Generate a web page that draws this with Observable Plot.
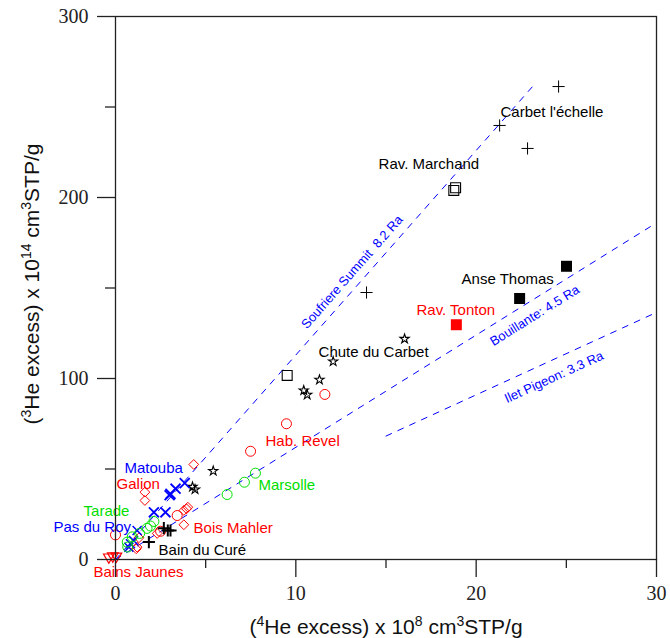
<!DOCTYPE html>
<html><head><meta charset="utf-8">
<script src="https://cdn.jsdelivr.net/npm/d3@7"></script>
<script src="https://cdn.jsdelivr.net/npm/@observablehq/plot@0.6"></script>
<style>
html,body{margin:0;padding:0;background:#fff;}
#chart svg{display:block;}
</style>
</head><body><div id="chart"></div>
<script>
// ---------- data (x = 4He excess ×1e8, y = 3He excess ×1e14) ----------
const carbetEchelle = [[24.57,261.3],[21.30,239.8],[22.85,227.1],[13.92,147.5]];
const ravMarchand   = [[18.86,205.4],[18.76,203.9],[9.52,101.7]];
const anseThomas    = [[25.01,162.0],[22.41,144.2]];
const ravTonton     = [[18.90,129.7]];
const chuteCarbet   = [[16.03,121.9],[12.07,109.4],[11.31,99.3],[10.44,93.4],[10.63,91.0],[5.42,48.9],[4.27,40.1],[4.41,38.7]];
const habRevel      = [[11.61,91.2],[9.48,75.0],[7.49,59.8],[3.42,24.3],[0.0,13.6],[2.5,15.6]];
const marsolle      = [[7.76,47.7],[7.15,42.7],[6.19,35.9]];
const galionBoisMahler = [[4.34,52.5],[1.63,37.2],[1.63,32.6],[3.79,27.1],[3.94,28.0],[4.01,28.9],[3.79,19.2],[2.31,14.4],[1.15,5.9],[1.2,6.8],[1.3,12.0]];
const matouba       = [[3.84,42.2],[3.33,39.1],[3.05,36.3],[3.0,35.5],[2.77,26.1],[2.13,26.1]];
const pasDuRoy      = [[1.2,16.0],[1.0,10.5],[0.83,8.7],[0.74,6.8]];
const tarade        = [[2.13,21.0],[1.94,18.5],[1.75,17.2],[1.34,14.4],[0.93,12.5],[0.65,9.6],[0.68,6.9]];
const bainDuCure    = [[2.68,17.3],[2.9,16.0],[3.05,16.0],[1.85,9.6]];
const bainsJaunes   = [[-0.37,0.7],[-0.15,1.3],[0.05,1.2]];

const siteNames = ["Carbet l'échelle","Rav. Marchand","Anse Thomas","Rav. Tonton","Chute du Carbet","Hab. Revel","Marsolle","Galion","Matouba","Pas du Roy","Tarade","Bain du Curé","Bains Jaunes","Bois Mahler"];
const labelX = [21.35,14.59,19.19,16.69,11.26,8.32,7.93,0.06,0.50,-3.44,-1.77,2.39,-1.22,4.33];
const labelY = [247.0,218.2,154.7,137.6,114.4,65.2,40.9,41.4,50.3,17.7,26.5,5.0,-7.2,17.1];

// reference lines (Ra ratios)
const refNames = ["Soufriere Summit  8.2 Ra","Bouillante: 4.5 Ra","Ilet Pigeon: 3.3 Ra"];
const refStart = [[0,0],[0,0],[15.0,68.2]];
const refEnd   = [[23.1,261.0],[30,186.0],[30,136.5]];
const refLabelPos = [[13.12,158.8],[23.25,134.8],[24.31,100.7]];
const refLabelAngle = [-48.6,-32.0,-24.5];

// axis ticks
const xMajor = [0,10,20,30], xMinor = [5,15,25];
const yMajor = [0,100,200,300], yMinor = [50,150,250];

// ---------- styles ----------
const RED = "#ff0000", GREEN = "#00e000", BLUE = "#0000ff", BLACK = "#000000";
const downTriangle = {draw(ctx, size){const s=Math.sqrt(size)*0.6;ctx.moveTo(-s,-s*0.8);ctx.lineTo(s,-s*0.8);ctx.lineTo(0,s*0.95);ctx.closePath();}};
const seriesDefs = [
  [carbetEchelle, {symbol:"plus", r:4, stroke:BLACK, fill:"none", strokeWidth:1}],
  [ravMarchand,   {symbol:"square", r:5.6, stroke:BLACK, fill:"none", strokeWidth:1.1}],
  [anseThomas,    {symbol:"square", r:6.2, stroke:"none", fill:BLACK}],
  [ravTonton,     {symbol:"square", r:6.2, stroke:"none", fill:RED}],
  [chuteCarbet,   {symbol:"star", r:2.9, stroke:BLACK, fill:"none", strokeWidth:1.1}],
  [habRevel,      {symbol:"circle", r:5, stroke:RED, fill:"none", strokeWidth:1}],
  [marsolle,      {symbol:"circle", r:5, stroke:GREEN, fill:"none", strokeWidth:1}],
  [galionBoisMahler,{symbol:"diamond2", r:4.4, stroke:RED, fill:"none", strokeWidth:1}],
  [matouba,       {symbol:"times", r:4.6, stroke:BLUE, fill:"none", strokeWidth:1.8}],
  [pasDuRoy,      {symbol:"times", r:4.2, stroke:BLUE, fill:"none", strokeWidth:1.5}],
  [tarade,        {symbol:"circle", r:5, stroke:GREEN, fill:"none", strokeWidth:1}],
  [bainDuCure,    {symbol:"plus", r:4, stroke:BLACK, fill:"none", strokeWidth:2}],
  [bainsJaunes,   {symbol:downTriangle, r:5, stroke:RED, fill:"none", strokeWidth:1.2}]
];
const labelColors = [BLACK,BLACK,BLACK,RED,BLACK,RED,GREEN,RED,BLUE,BLUE,GREEN,BLACK,RED,RED];

const labels = siteNames.map((n,i)=>({name:n, x:labelX[i], y:labelY[i], color:labelColors[i]}));
const refLines = refNames.map((n,i)=>[{id:i,x:refStart[i][0],y:refStart[i][1]},{id:i,x:refEnd[i][0],y:refEnd[i][1]}]).flat();
const refLabels = refNames.map((n,i)=>({name:n,x:refLabelPos[i][0],y:refLabelPos[i][1],a:refLabelAngle[i]}));

const SANS = "Liberation Sans, Arial, Helvetica, sans-serif";
const SERIF = "Liberation Serif, Times New Roman, serif";
const AX = "#222";

const marks = [
  Plot.line(refLines, {x:"x", y:"y", z:"id", stroke:BLUE, strokeWidth:1, strokeDasharray:"6,7"}),
  Plot.text(refLabels, {x:"x", y:"y", text:"name", rotate:"a", fill:BLUE, fontSize:13, fontFamily:SANS, textAnchor:"middle"}),
  ...seriesDefs.map(([pts, st]) => Plot.dot(pts, {x:d=>d[0], y:d=>d[1], ...st})),
  Plot.text(labels, {x:"x", y:"y", text:"name", fill:"color", fontSize:15, fontFamily:SANS, textAnchor:"start"}),
  Plot.frame({stroke:AX, strokeWidth:1.3}),
  Plot.axisX(xMajor, {tickSize:18, tickPadding:8, fontSize:20, fontFamily:SERIF, stroke:AX, fill:AX, strokeWidth:1.3, label:null, tickFormat:d=>String(d)}),
  Plot.axisX(xMinor, {tickSize:9, stroke:AX, strokeWidth:1.3, label:null, tickFormat:()=>""}),
  Plot.axisY(yMajor, {tickSize:18, tickPadding:9, fontSize:20, fontFamily:SERIF, stroke:AX, fill:AX, strokeWidth:1.3, label:null, tickFormat:d=>String(d)}),
  Plot.axisY(yMinor, {tickSize:10, stroke:AX, strokeWidth:1.3, label:null, tickFormat:()=>""})
];

const chart = Plot.plot({
  width:670, height:638,
  marginLeft:115, marginRight:14, marginTop:16, marginBottom:79,
  x:{domain:[0,30], axis:null},
  y:{domain:[0,300], axis:null},
  style:{background:"#fff"},
  marks
});
document.getElementById("chart").appendChild(chart);

// axis titles with superscripts
const svg = d3.select(chart);
function title(sel, parts){
  parts.forEach(([t,sup])=>{
    const ts = sel.append("tspan").text(t);
    if (sup) ts.attr("font-size","14px").attr("dy","-8");
    else if (sel.node().childNodes.length>1) {
      const prev = sel.node().childNodes[sel.node().childNodes.length-2];
      if (prev.getAttribute("font-size")) ts.attr("dy","8");
    }
  });
}
const xt = svg.append("text").attr("x",386).attr("y",634).attr("text-anchor","middle")
  .attr("font-family",SANS).attr("font-size","21px").attr("fill","#111");
title(xt, [["("],["4",1],["He excess) x 10"],["8",1],[" cm"],["3",1],["STP/g"]]);
const yt = svg.append("text").attr("transform","translate(39,284) rotate(-90)").attr("text-anchor","middle")
  .attr("font-family",SANS).attr("font-size","21px").attr("fill","#111");
title(yt, [["("],["3",1],["He excess) x 10"],["14",1],[" cm"],["3",1],["STP/g"]]);
</script>
</body></html>
